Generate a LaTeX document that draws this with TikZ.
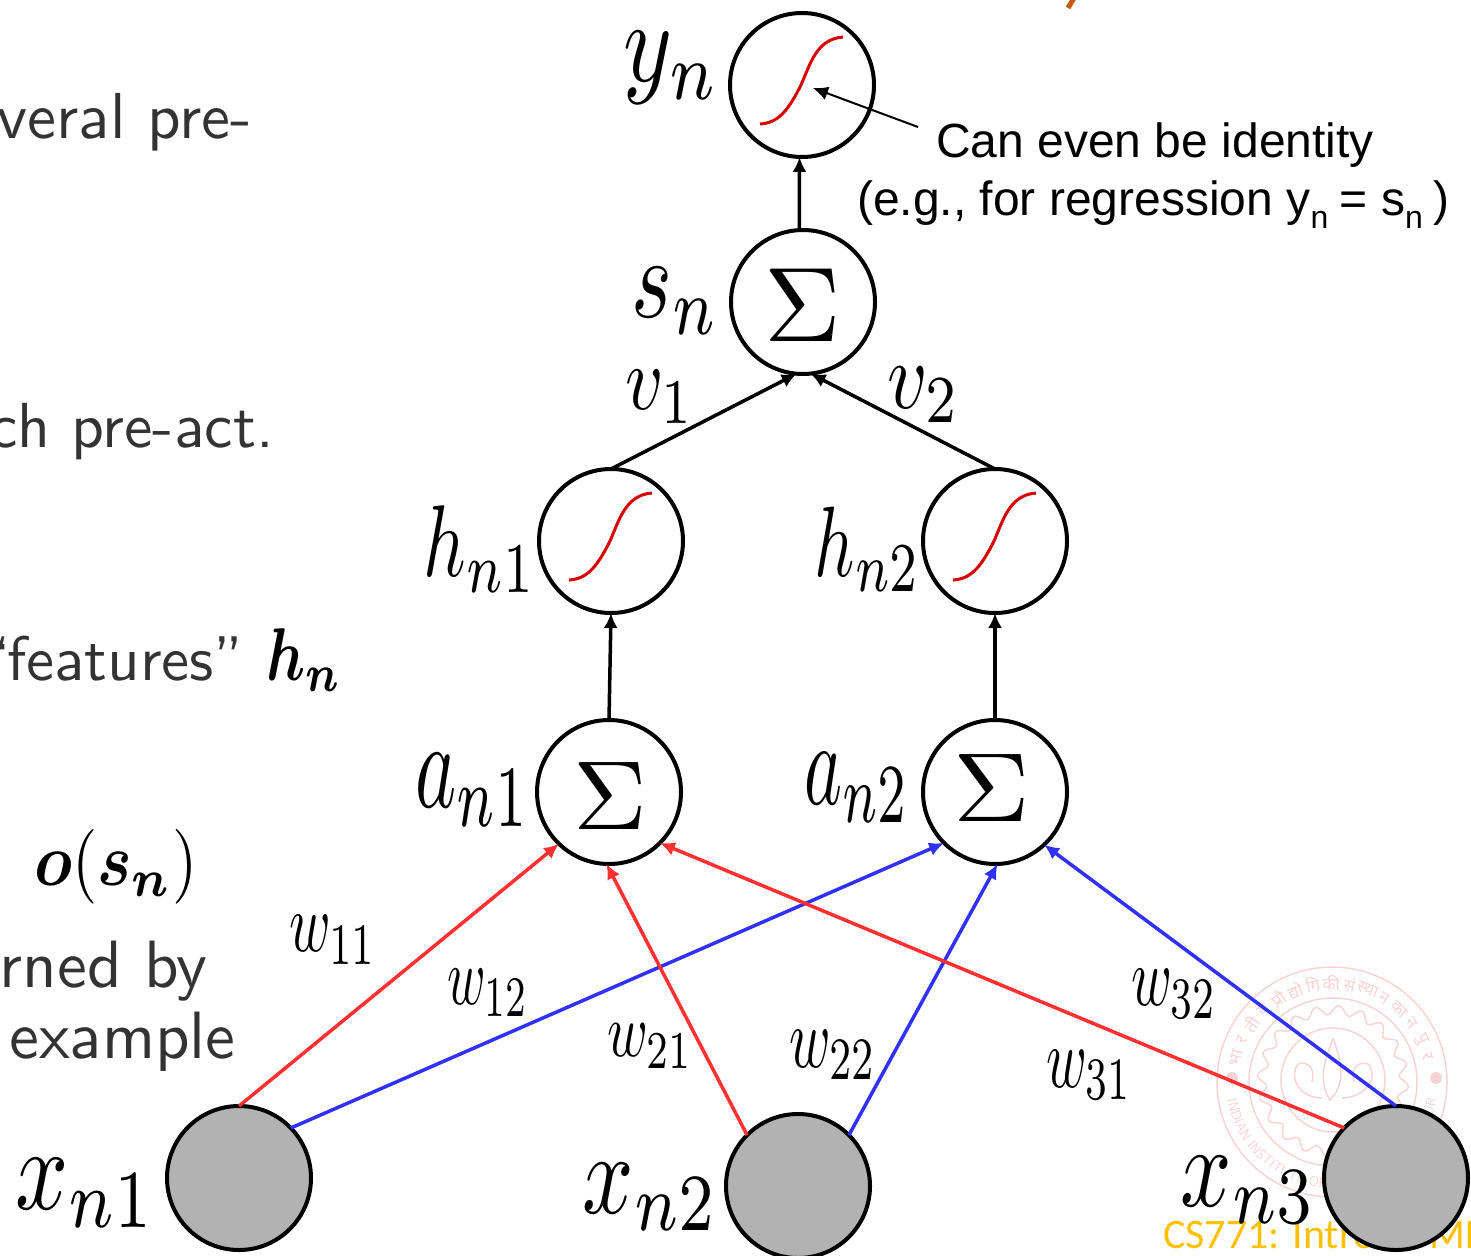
\documentclass[tikz,border=0pt]{standalone}
\usepackage{amsmath,bm}
\usepackage[no-math]{fontspec}
\newfontfamily\labelfont{Liberation Sans}
\newfontfamily\footfont{Carlito}
\newfontfamily\hindifont[Script=Devanagari]{Noto Sans}
\usetikzlibrary{arrows.meta,decorations.text}
\definecolor{sealpink}{RGB}{247,212,212}
\definecolor{linered}{RGB}{255,48,48}
\definecolor{lineblue}{RGB}{48,48,255}
\definecolor{footgold}{RGB}{255,192,0}
\definecolor{titleorange}{RGB}{197,90,17}
\newcommand{\subn}{{\fontsize{32}{32}\selectfont\raisebox{-13pt}{n}}}
\tikzset{
  unit/.style={circle,draw,line width=4pt,minimum size=144pt,inner sep=0pt,outer sep=0pt,fill=white},
  inputunit/.style={unit,fill=black!30},
  sumsign/.style={font=\fontsize{10}{12}\selectfont},
  slidetext/.style={font=\sffamily,scale=6.5,inner sep=0pt,text=black!80},
  callout/.style={font=\labelfont\fontsize{48}{50}\selectfont,inner sep=0pt},
  wire/.style={->,line width=3.5pt},
  redwire/.style={wire,linered},
  bluewire/.style={wire,lineblue},
  sigmoid/.pic={
    \draw[red!85!black,line width=3pt] (-42,39) .. controls (-24,38) and (-14,26) .. (-1,0)
      .. controls (8,-20) and (14,-46) .. (41,-48);
  }
}
\begin{document}
\begin{tikzpicture}[x=1pt,y=-1pt,>={Latex[length=15pt,width=14pt]}]
  \useasboundingbox (0,0) rectangle (1471,1255);
  \clip (0,0) rectangle (1471,1255);

  \draw[titleorange,line width=5pt] (1074,-2) -- (1068,8);

  \node[slidetext,anchor=base east] (txta) at (253,138) {veral pre-};
  \node[slidetext,scale=0.98,anchor=base east] (txtb) at (275,447) {ch pre-act.};
  \node[slidetext,scale=0.97,anchor=base east] (txtc) at (245,680) {‘\kern-0.6pt features”};
  \node[slidetext,text=black,xscale=0.9,yscale=1.15,anchor=base east] (txth) at (343,680) {$\bm{h_n}$};
  \node[slidetext,text=black,yscale=1.15,anchor=base] (txtd) at (116,885) {$\bm{o}\mathbf{(}\bm{s_n}\mathbf{)}$};
  \node[slidetext,scale=1.03,anchor=base east] (txte) at (209,987) {rned by};
  \node[slidetext,scale=1.03,anchor=base east] (txtf) at (237,1058) {example};

  \begin{scope}[sealpink,line width=1.5pt]
    \draw (1332,1082) circle[radius=115];
    \draw (1333,1082) circle[radius=84];
    \draw (1333,1080) circle[radius=52];
    \draw plot[domain=0:360,samples=241,smooth] ({1333+(71+4.5*sin(20*\x))*cos(\x)},{1081+(71+4.5*sin(20*\x))*sin(\x)});
    \fill (1232,1078) circle[radius=6];
    \fill (1436,1078) circle[radius=6];
    \draw (1333,1038) .. controls (1324,1062) and (1318,1082) .. (1330,1100) .. controls (1346,1084) and (1342,1062) .. (1333,1038);
    \draw (1322,1098) .. controls (1300,1098) and (1288,1078) .. (1298,1064) .. controls (1308,1060) and (1316,1070) .. (1312,1082);
    \draw (1342,1098) .. controls (1364,1098) and (1380,1078) .. (1368,1064) .. controls (1358,1060) and (1350,1070) .. (1354,1082);
    \foreach \syl [count=\n] in {भा,र,ती,य,प्रौ,द्यो,गि,की,सं,स्था,न,का,न,पु,र} {
      \pgfmathsetmacro{\ang}{166-(\n-1)*10.8}
      \node[text=sealpink,font=\hindifont\fontsize{17}{17}\selectfont,rotate=\ang-90,inner sep=0pt]
        at ({1332+99*cos(\ang)},{1082-99*sin(\ang)}) {\syl};
    }
  \end{scope}
  \begin{scope}[y=1pt,shift={(1332,-1082)}]
    \path[decorate,decoration={text along path,text align=center,
        text={|\sffamily\fontsize{14}{14}\selectfont\color{sealpink}|INDIAN INSTITUTE OF TECHNOLOGY KANPUR}}]
      (188:106) arc[start angle=188,end angle=352,radius=106];
  \end{scope}

  \node[font=\footfont\fontsize{42}{44}\selectfont,text=footgold,anchor=base west,inner sep=0pt] (foot) at (1163,1248) {CS771: Intro to ML};

  \node[unit] (yn) at (802,85) {};
  \node[unit] (sn) at (803,302) {};
  \node[unit] (hn1) at (611,541) {};
  \node[unit] (hn2) at (995,541) {};
  \node[unit] (an1) at (609,792) {};
  \node[unit] (an2) at (995,792) {};
  \node[inputunit] (xn1) at (239,1178) {};
  \node[inputunit] (xn2) at (798,1186) {};
  \node[inputunit] (xn3) at (1396,1178) {};

  \pic at (yn) {sigmoid};
  \pic at (hn1) {sigmoid};
  \pic at (hn2) {sigmoid};

  \node[sumsign,scale=10.6] (sumsn) at (803,305) {$\Sigma$};
  \node[sumsign,xscale=10.2,yscale=9.8] (suman1) at (610,796) {$\Sigma$};
  \node[sumsign,xscale=10.6,yscale=9.8] (suman2) at (992,788) {$\Sigma$};

  \draw[redwire] (xn1.90) -- (an1.226);
  \draw[bluewire] (xn1.44) -- (an2.225);
  \draw[redwire] (xn2.135) -- (an1.268);
  \draw[bluewire] (xn2.45) -- (an2.272);
  \draw[redwire] (xn3.136) -- (an1.315);
  \draw[bluewire] (xn3.90) -- (an2.313);

  \draw[wire] (sn.93) -- (yn.268);
  \draw[wire] (an1.north) -- (hn1.south);
  \draw[wire] (an2.north) -- (hn2.south);
  \draw[wire] (hn1.north) -- (sn.265);
  \draw[wire] (hn2.north) -- (sn.276);

  \coordinate (tipfrom) at (918,127);
  \coordinate (tipto) at (813,88);
  \draw[->,line width=2pt] (tipfrom) -- (tipto);

  \node[callout,anchor=base west] (noteone) at (936,157) {Can even be identity};
  \node[callout,anchor=base west] (notetwo) at (857,215) {(e.g., for regression y\subn{}\kern-2pt{} = s\subn{}\kern-3pt{} )};

  \node[xscale=9.3,yscale=11.6] (lyn) at (672,68) {$y_n$};
  \node[xscale=8.7,yscale=11.6] (lsn) at (676,301) {$s_n$};
  \node[xscale=7.4,yscale=10.2] (lhn1) at (480,549) {$h_{n1}$};
  \node[xscale=7,yscale=10] (lhn2) at (868,549) {$h_{n2}$};
  \node[xscale=7.8,yscale=12.5] (lan1) at (473,790) {$a_{n1}$};
  \node[xscale=7.2,yscale=12] (lan2) at (857,788) {$a_{n2}$};
  \node[xscale=9.3,yscale=11.8] (lxn1) at (86,1193) {$x_{n1}$};
  \node[xscale=9,yscale=11.6] (lxn2) at (651,1197) {$x_{n2}$};
  \node[xscale=9,yscale=11.6] (lxn3) at (1249,1190) {$x_{n3}$};
  \node[xscale=7.4,yscale=9.1] (lvone) at (660,397) {$v_1$};
  \node[xscale=7.8,yscale=9.6] (lvtwo) at (924,395) {$v_2$};
  \node[xscale=5.6,yscale=8.4] (lwoo) at (333,940) {$w_{11}$};
  \node[xscale=5.2,yscale=8.2] (lwot) at (488,993) {$w_{12}$};
  \node[xscale=5.5,yscale=7.6] (lwto) at (650,1046) {$w_{21}$};
  \node[xscale=5.6,yscale=8.6] (lwtt) at (833,1055) {$w_{22}$};
  \node[xscale=5.5,yscale=8.4] (lwht) at (1174,994) {$w_{32}$};
  \node[xscale=5.5,yscale=8.6] (lwho) at (1089,1075) {$w_{31}$};
\end{tikzpicture}
\end{document}
